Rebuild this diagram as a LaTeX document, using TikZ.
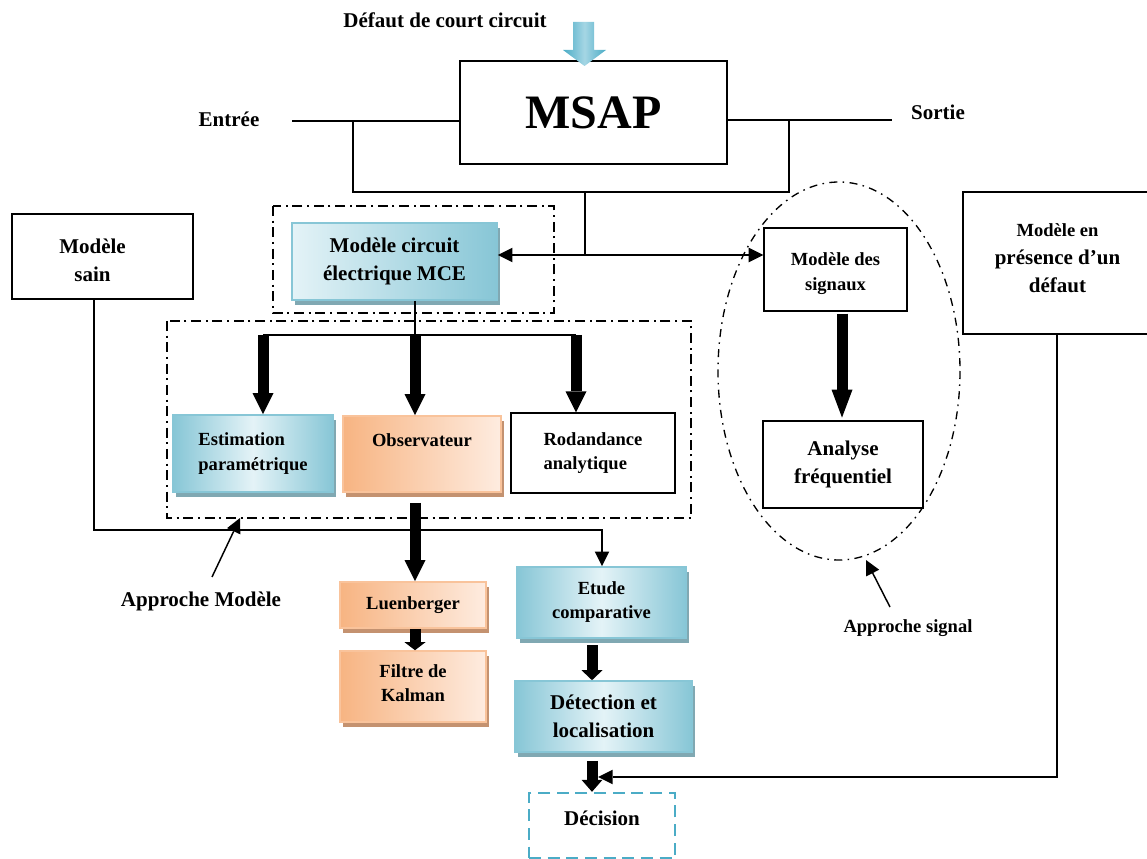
\documentclass[tikz,border=0pt]{standalone}
\usepackage{fontspec}
\setmainfont{Liberation Serif}
\usetikzlibrary{arrows.meta,shadows}
\definecolor{bluD}{RGB}{135,198,214}
\definecolor{bluL}{RGB}{228,243,247}
\definecolor{bluS}{RGB}{128,168,178}
\definecolor{orD}{RGB}{247,180,130}
\definecolor{orL}{RGB}{254,236,224}
\definecolor{orS}{RGB}{196,146,112}
\definecolor{cyE}{RGB}{75,172,198}
\definecolor{cyL}{RGB}{165,214,228}
\newcommand\fntA{\fontsize{13.9pt}{18pt}\selectfont\bfseries}
\newcommand\fntC{\fontsize{13.9pt}{18.75pt}\selectfont\bfseries}
\newcommand\fntB{\fontsize{15.75pt}{21pt}\selectfont\bfseries}
\begin{document}
\begin{tikzpicture}[x=0.75pt,y=-0.75pt,
  wh/.style 2 args={minimum width=#1*0.75pt, minimum height=#2*0.75pt},
  plain/.style={draw=black, line width=1.1pt, inner sep=0pt, align=center, font=\fntB},
  bluebox/.style={draw=bluD, line width=1.2pt, inner sep=0pt, align=center, font=\fntA,
    left color=bluD, right color=bluD, middle color=bluL,
    drop shadow={shadow xshift=2.2pt, shadow yshift=-3.5pt, fill=bluS, opacity=1}},
  mcebox/.style={bluebox, left color=bluL, right color=bluD},
  orbox/.style={draw=orD!80!white, line width=1.2pt, inner sep=0pt, align=center, font=\fntA,
    left color=orD, right color=orL,
    drop shadow={shadow xshift=2.2pt, shadow yshift=-3.5pt, fill=orS, opacity=1}},
  decbox/.style={draw=cyE, line width=1.8pt, dash pattern=on 9pt off 5pt, inner sep=0pt, align=center, font=\fntB},
  wire/.style={line width=1.1pt},
  tarr/.style={line width=1.1pt, -{Triangle[width=11pt,length=11pt,line width=0pt]}},
  fat/.style={line width=8.25pt, -{Triangle[width=15.75pt,length=#1,line width=0pt]}},
  ddot/.style={line width=1.4pt, dash pattern=on 7.5pt off 3.5pt on 1.5pt off 3.5pt},
  edot/.style={line width=1pt, dash pattern=on 6pt off 4pt on 1.2pt off 4pt}
]
\useasboundingbox (0,0) rectangle (1147,859);

% free texts
\node[font=\fntB] (defaut) at (445,20) {Défaut de court circuit};
\node[font=\fntB] (entree) at (229,119) {Entrée};
\node[font=\fntB] (sortie) at (938,112) {Sortie};
\node[font=\fntB] (appM) at (201,601) {Approche Modèle};
\node[font=\fntA] (appS) at (908,628) {Approche signal};

% group frames
\draw[ddot] (273,206) rectangle (554,313);
\draw[ddot] (167,321) rectangle (691,518);
\draw[edot] (839,371) ellipse [x radius=121, y radius=189];

% boxes
\node[plain, wh={267}{103}, font=\fontsize{36pt}{40pt}\selectfont\bfseries] (msap) at (593.5,112.5) {MSAP};
\node[plain, wh={181}{85}, label={[font=\fntB, align=center, xshift=-7.5pt, yshift=-3pt]center:Modèle\\sain}] (sain) at (102.5,256.5) {};
\node[mcebox, wh={205}{77}, font=\fntB] (mce) at (394.5,261.5) {Modèle circuit\\électrique MCE};
\node[bluebox, wh={160}{77}, align=left, font=\fntC] (est) at (253,453.5) {Estimation\\paramétrique};
\node[orbox, wh={158}{76}, text height=10pt, text depth=20.5pt] (obs) at (422,454) {Observateur};
\node[plain, wh={164}{80}, align=left, font=\fntA] (rod) at (593,453) {Rodandance\\analytique};
\node[orbox, wh={146}{46}] (luen) at (413,605) {Luenberger};
\node[orbox, wh={146}{71}, label={[font=\fntA, align=center, yshift=2.5pt]center:Filtre de\\Kalman}] (kal) at (413,686.5) {};
\node[bluebox, wh={169}{71}] (etude) at (601.5,602.5) {Etude\\comparative};
\node[bluebox, wh={177}{71}, font=\fntB] (det) at (603.5,716.5) {Détection et\\localisation};
\node[decbox, wh={146}{65}, text height=10pt, text depth=10pt] (dec) at (602,825.5) {Décision};
\node[plain, wh={143}{83}, label={[font=\fntC, align=center, yshift=-3pt]center:Modèle des\\signaux}] (sig) at (835.5,269.5) {};
\node[plain, wh={160}{87}] (ana) at (843,464.5) {Analyse\\fréquentiel};
\node[plain, wh={189}{142}, label={[font=\fntB, align=center, yshift=3.5pt]center:{\fntA Modèle en}\\présence d’un\\défaut}] (def) at (1057.5,263) {};

% fault arrow (cyan block arrow)
\shade[left color=cyE, right color=cyE, middle color=cyL]
  (573,22) -- (594,22) -- (594,50) -- (606,50) -- (584.5,66) -- (563,50) -- (573,50) -- cycle;

% MSAP input / output and bus
\coordinate (inL) at (292,121);
\coordinate (outR) at (892,120);
\coordinate (inB) at (353,121);
\coordinate (outB) at (789,120);
\coordinate (busM) at (585,192);
\coordinate (split) at (585,255);
\draw[wire] (inL) -- (inL -| msap.west);
\draw[wire] (outR -| msap.east) -- (outR);
\draw[wire] (inB) |- (busM) -| (outB);
\draw[wire] (busM) -- (split);
\draw[tarr] (split) -- (split -| mce.east);
\draw[tarr] (split) -- (split -| sig.west);

% MCE to the three methods
\coordinate (hbL) at (263,335);
\coordinate (hbM) at (415,335);
\coordinate (hbR) at (576,335);
\draw[wire] (hbM |- mce.south) -- (hbM);
\draw[wire] (hbL) -- (hbR);
\draw[fat=15.75pt] (hbL) -- (hbL |- est.north);
\draw[fat=15.75pt] (hbM) -- (hbM |- obs.north);
\draw[fat=15.75pt] (hbR) -- (hbR |- rod.north);

% observer chain
\draw[fat=15.75pt] ([yshift=-7.5pt]hbM |- obs.south) -- (hbM |- luen.north);
\draw[fat=6pt] (hbM |- luen.south) -- (hbM |- kal.north);

% healthy model to comparative study
\coordinate (sB) at (94,530);
\coordinate (eT) at (602,530);
\draw[tarr] (sB |- sain.south) |- (eT) -- (eT |- etude.north);

% decision chain
\coordinate (cx) at (592,0);
\draw[fat=7.5pt] ([yshift=-5pt]cx |- etude.south) -- (cx |- det.north);
\draw[fat=9pt] ([yshift=-6pt]cx |- det.south) -- (cx |- dec.north);

% faulty model to decision
\coordinate (dfB) at (1057,777);
\coordinate (decA) at (598,777);
\draw[tarr] (dfB |- def.south) -- (dfB) -- (decA);

% signal approach
\coordinate (sx) at (842,0);
\draw[fat=21pt] ([yshift=-1.5pt]sx |- sig.south) -- ([yshift=2pt]sx |- ana.north);

% approach pointers
\coordinate (amS) at (212,577);
\coordinate (amT) at (240,518);
\draw[tarr] (amS) -- (amT);
\coordinate (asS) at (890,607);
\coordinate (asT) at (866,560);
\draw[tarr] (asS) -- (asT);
\end{tikzpicture}
\end{document}
